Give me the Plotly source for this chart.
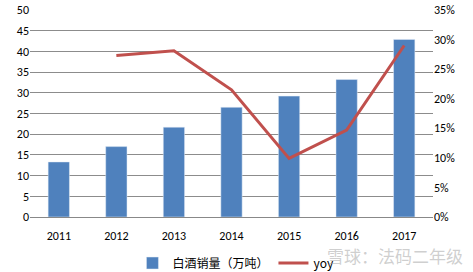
import plotly.graph_objects as go

years = ["2011", "2012", "2013", "2014", "2015", "2016", "2017"]
sales = [13.3, 17.0, 21.7, 26.5, 29.2, 33.2, 42.9]
yoy = [None, 27.3, 28.1, 21.5, 9.9, 14.7, 29.0]

fig = go.Figure()
fig.add_trace(go.Bar(x=years, y=sales, name="白酒销量（万吨）", marker_color="#4F81BD",
                     yaxis="y"))
fig.add_trace(go.Scatter(x=years, y=yoy, name="yoy", mode="lines",
                         line=dict(color="#C0504D", width=3), yaxis="y2",
                         connectgaps=False))

font = "Calibri, Carlito, 'Noto Sans CJK SC', sans-serif"
fig.update_layout(
    width=473, height=272,
    margin=dict(l=30, r=40, t=10, b=55),
    paper_bgcolor="white", plot_bgcolor="white",
    bargap=0.63,
    font=dict(family="'Noto Sans CJK SC', sans-serif", size=11, color="#000"),
    xaxis=dict(showgrid=False, showline=True, linecolor="#888", linewidth=1,
               ticks="", ticklabelstandoff=8, automargin=False,
               tickfont=dict(size=12, family=font)),
    yaxis=dict(range=[0, 50], dtick=5, showgrid=True, gridcolor="#8c8c8c",
               gridwidth=1, zeroline=False, ticks="", showline=False, automargin=False,
               tickfont=dict(size=12, family=font)),
    yaxis2=dict(range=[0, 35], dtick=5, overlaying="y", side="right",
                showgrid=False, zeroline=False, ticksuffix="%", automargin=False,
                tickfont=dict(size=12, family=font)),
    legend=dict(orientation="h", x=0.28, xanchor="left", xref="container",
                y=0.033, yanchor="middle", yref="container",
                font=dict(size=12), itemwidth=30),
    showlegend=True,
)
fig.add_annotation(text="雪球：法码二年级", xref="paper", yref="paper", x=1.079, y=-0.188,
                   xanchor="right", yanchor="middle", showarrow=False,
                   font=dict(size=17, color="rgba(160,160,160,0.5)"))
fig.write_html("out.html")
